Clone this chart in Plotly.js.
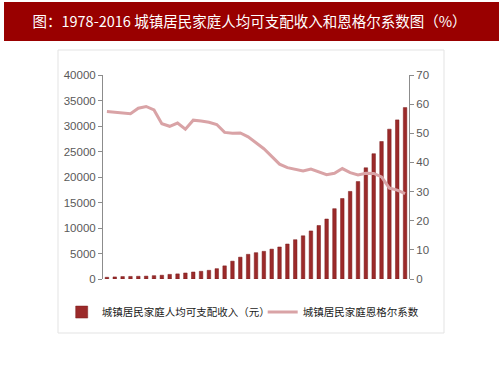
<!DOCTYPE html>
<html>
<head>
<meta charset="utf-8">
<script src="https://cdn.plot.ly/plotly-3.0.1.min.js"></script>
<style>html,body{margin:0;padding:0;background:#fff;}#chart{width:503px;height:378px;}</style>
</head>
<body>
<div id="chart"></div>
<script>
var years = [1978,1979,1980,1981,1982,1983,1984,1985,1986,1987,1988,1989,1990,1991,1992,1993,1994,1995,1996,1997,1998,1999,2000,2001,2002,2003,2004,2005,2006,2007,2008,2009,2010,2011,2012,2013,2014,2015,2016];
var income = [343,405,478,500,535,565,652,739,901,1002,1180,1374,1510,1701,2027,2577,3496,4283,4839,5160,5425,5854,6280,6860,7703,8472,9422,10493,11760,13786,15781,17175,19109,21810,24565,26955,29381,31195,33616];
var engel = [57.5,57.2,56.9,56.7,58.6,59.2,58.0,53.3,52.4,53.5,51.4,54.5,54.2,53.8,53.0,50.3,50.0,50.1,48.8,46.6,44.7,42.1,39.4,38.2,37.7,37.1,37.7,36.7,35.8,36.3,37.9,36.5,35.7,36.3,36.2,35.0,31.2,30.5,29.3];
var incomeName = '城镇居民家庭人均可支配收入（元）';
var engelName = '城镇居民家庭恩格尔系数';
var titleText = '图：1978-2016 城镇居民家庭人均可支配收入和恩格尔系数图（%）';
var leftTicks = [0,5000,10000,15000,20000,25000,30000,35000,40000];
var rightTicks = [0,10,20,30,40,50,60,70];

var tickFont = {family: '"Liberation Sans Narrow", "Liberation Sans", Arial, sans-serif', size: 11.5, color: '#595959'};

var traces = [
  {type: 'bar', x: years, y: income, name: incomeName, yaxis: 'y',
   marker: {color: '#9b2a2a', line: {color: '#7a1c1c', width: 0.5}}},
  {type: 'scatter', mode: 'lines', x: years, y: engel, name: engelName, yaxis: 'y2',
   line: {color: '#d9a3a6', width: 3}}
];

var layout = {
  width: 503, height: 378,
  margin: {l: 103, r: 94, t: 75, b: 99},
  paper_bgcolor: '#ffffff', plot_bgcolor: 'rgba(0,0,0,0)',
  bargap: 0.55,
  showlegend: true,
  title: {text: titleText, x: 0.496, xref: 'container', xanchor: 'center',
          y: 1 - 21.5/378, yref: 'container', yanchor: 'middle',
          font: {family: '"Noto Sans CJK SC", sans-serif', size: 14.5, color: '#ffffff'}},
  xaxis: {range: [1977.5, 2016.5], showticklabels: false, showgrid: false, zeroline: false,
          showline: false, ticks: '', fixedrange: true},
  yaxis: {range: [0, 40000], tickvals: leftTicks, ticktext: leftTicks.map(String),
          showgrid: false, zeroline: false, showline: true, linecolor: '#8c8c8c', linewidth: 1,
          ticks: 'outside', ticklen: 4, tickcolor: '#8c8c8c', tickfont: tickFont},
  yaxis2: {range: [0, 70], tickvals: rightTicks, overlaying: 'y', side: 'right',
          showgrid: false, zeroline: false, showline: true, linecolor: '#8c8c8c', linewidth: 1,
          ticks: 'outside', ticklen: 4, tickcolor: '#8c8c8c', tickfont: tickFont},
  legend: {orientation: 'h', x: -0.135, xanchor: 'left', y: -0.162, yanchor: 'middle',
           entrywidth: 156, entrywidthmode: 'pixels',
           font: {family: '"Noto Sans CJK SC", sans-serif', size: 10.5, color: '#1a1a1a'},
           bgcolor: 'rgba(0,0,0,0)'},
  shapes: [
    {type: 'rect', xref: 'paper', yref: 'paper', x0: -0.3235, x1: 1.2941, y0: 1.1667, y1: 1.3578,
     fillcolor: '#990000', line: {width: 0}, layer: 'below'},
    {type: 'rect', xref: 'paper', yref: 'paper', x0: -0.1471, x1: 1.1144, y0: -0.2647, y1: 1.1225,
     fillcolor: 'rgba(0,0,0,0)', line: {color: '#e3e3e3', width: 1}, layer: 'below'}
  ]
};

Plotly.newPlot('chart', traces, layout, {displayModeBar: false, staticPlot: true});
</script>
</body>
</html>
